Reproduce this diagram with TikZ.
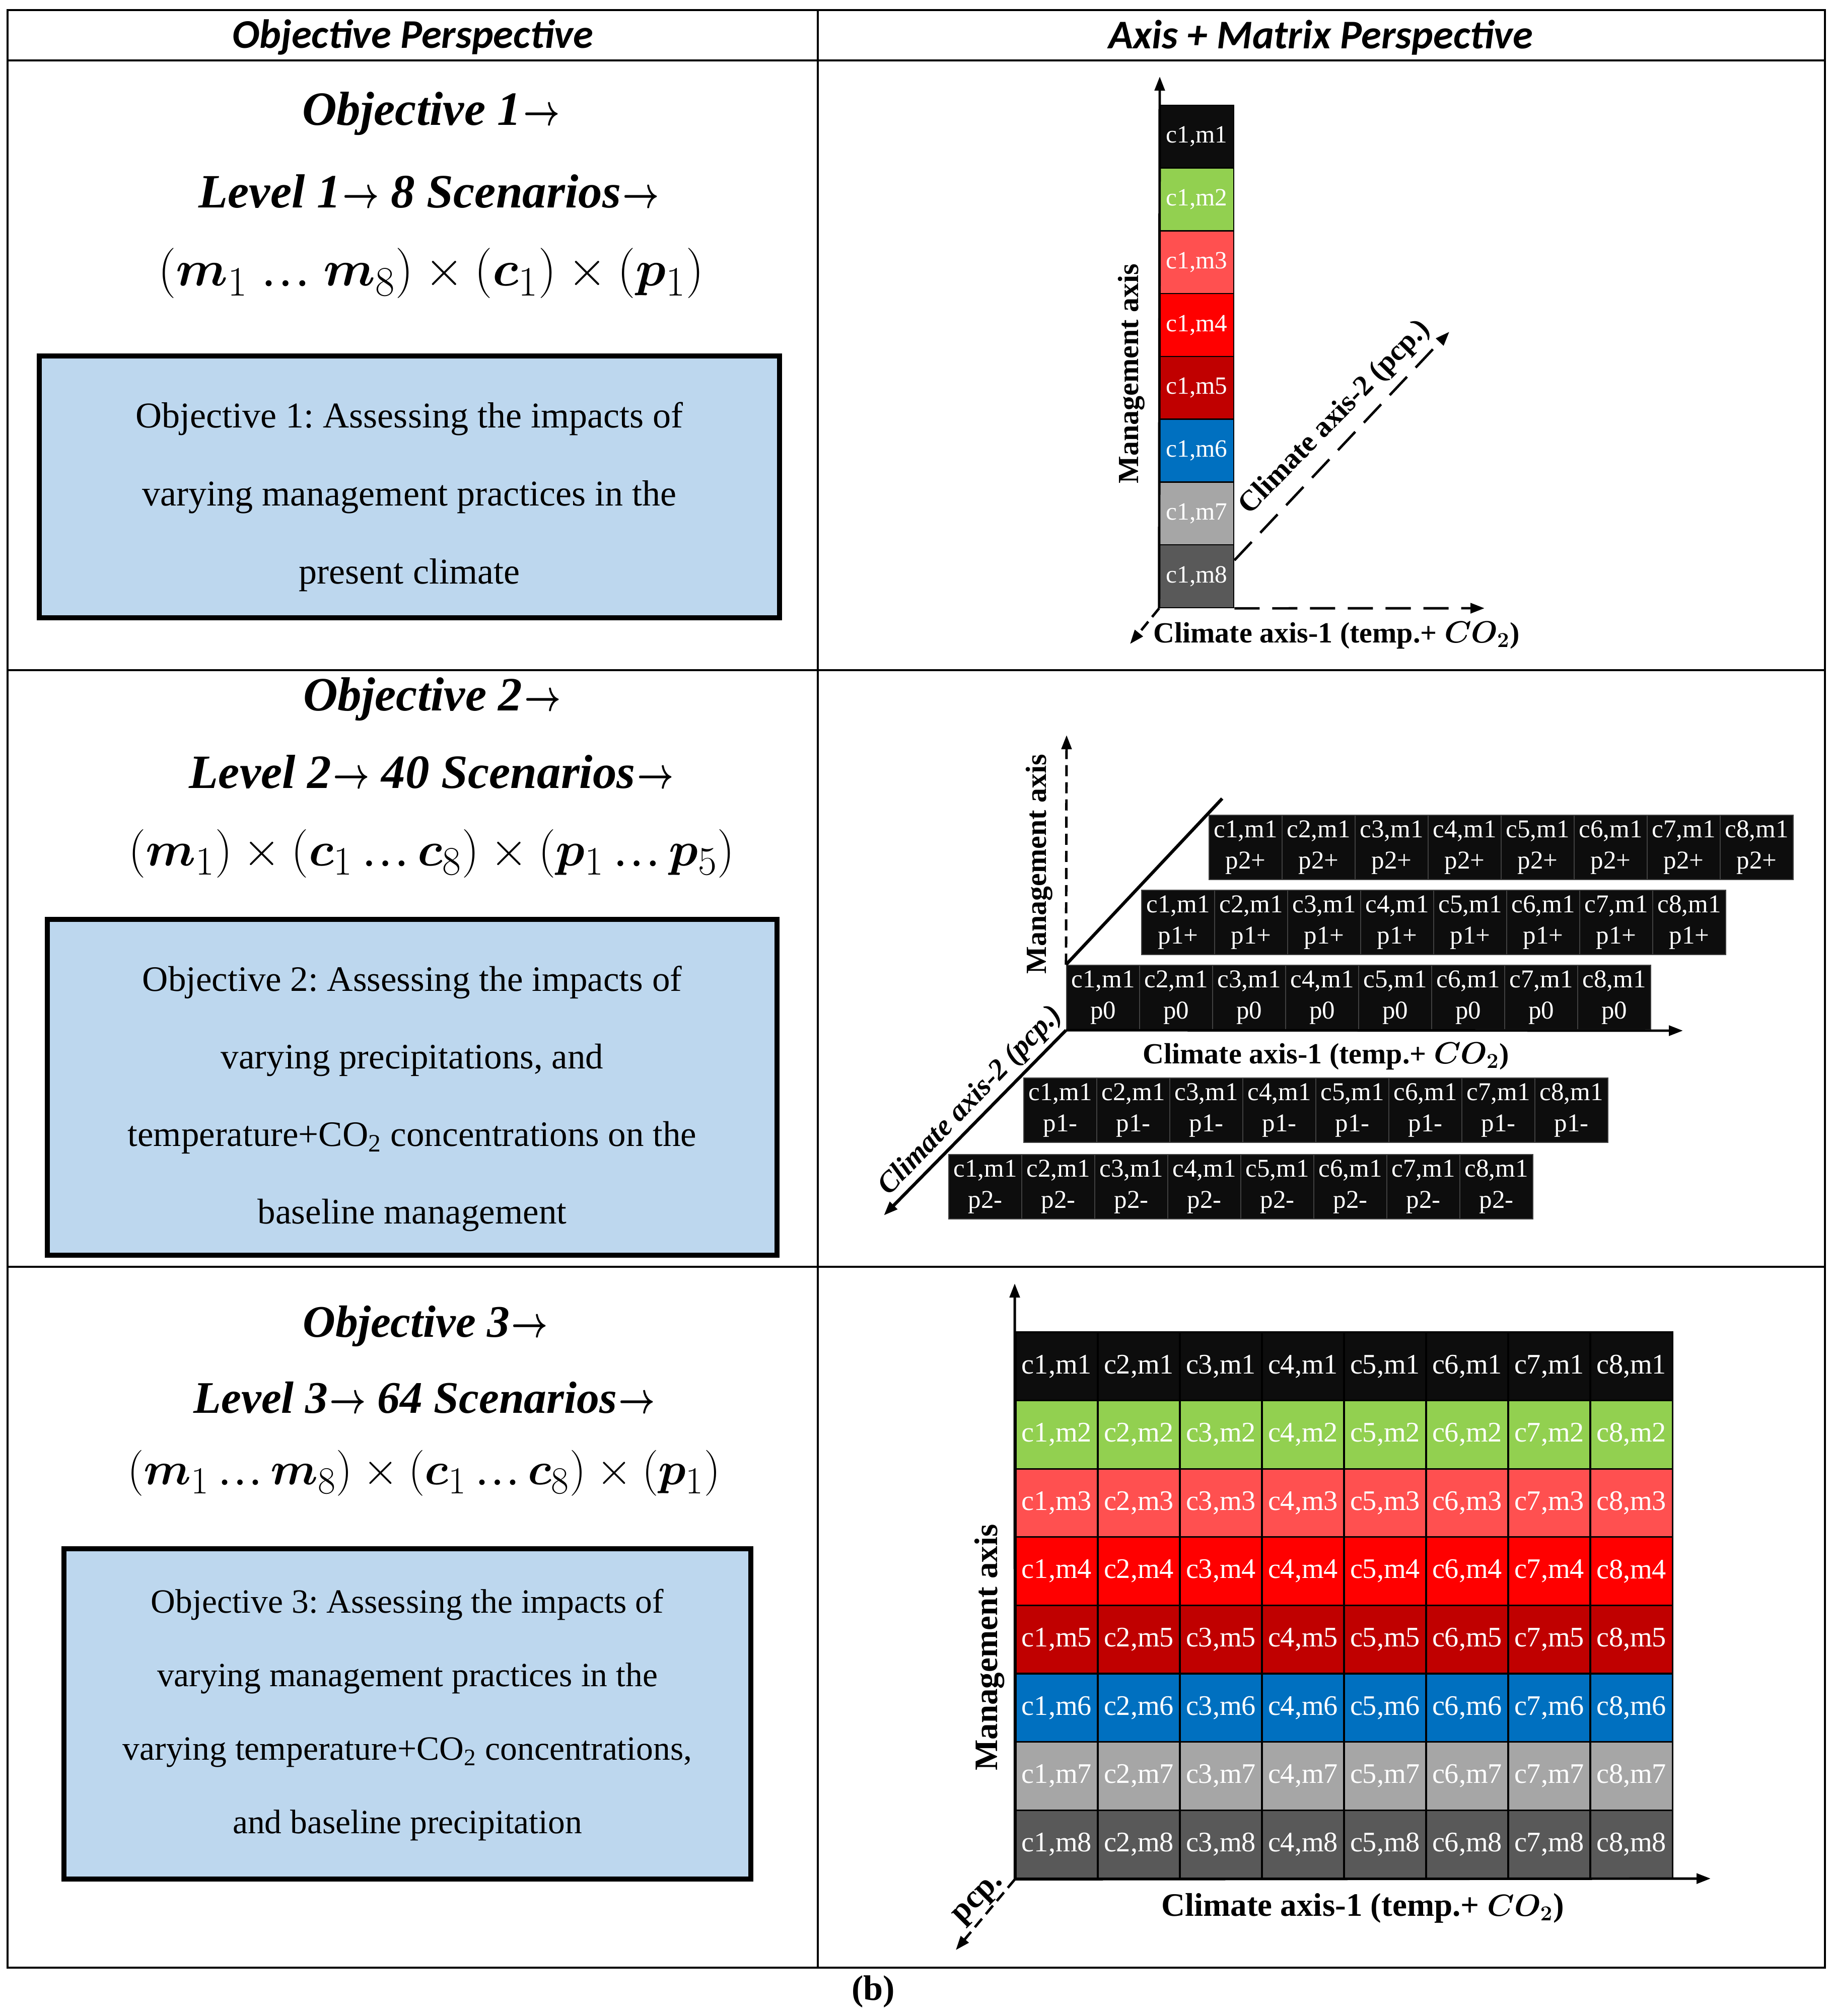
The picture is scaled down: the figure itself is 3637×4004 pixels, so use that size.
\documentclass[tikz,border=0pt]{standalone}
\usepackage{fontspec}
\usepackage{bm}
\setmainfont{Liberation Serif}
\newfontfamily\hdrfont{Carlito}
\usetikzlibrary{arrows.meta,calc}
\definecolor{cM1}{HTML}{0D0D0D}
\definecolor{cM2}{HTML}{92D050}
\definecolor{cM3}{HTML}{FF5050}
\definecolor{cM4}{HTML}{FF0000}
\definecolor{cM5}{HTML}{C00000}
\definecolor{cM6}{HTML}{0070C0}
\definecolor{cM7}{HTML}{A6A6A6}
\definecolor{cM8}{HTML}{595959}
\definecolor{boxblue}{HTML}{BDD7EE}
\newcommand\bv[2]{\bm{#1}_{#2}}
\newcommand\rar{\kern0.04em\scalebox{0.72}[1]{\boldmath$\rightarrow$}}
\newcommand\dts{\mbox{…}}
\frenchspacing
\begin{document}
\begin{tikzpicture}[x=0.01cm,y=-0.01cm,
  tbl/.style={line width=1.3pt},
  obox/.style={draw=black,line width=2.85pt,fill=boxblue,inner sep=0pt},
  otext/.style={align=center,inner sep=0pt},
  hdr/.style={font=\hdrfont\bfseries\itshape\fontsize{23}{27}\selectfont},
  ttl/.style={font=\bfseries\itshape\fontsize{27}{32}\selectfont},
  mth/.style={font=\fontsize{24.88}{30}\selectfont},
  axlab/.style={font=\bfseries\fontsize{16.5}{20}\selectfont},
  axlabC/.style={font=\bfseries\fontsize{18.5}{22}\selectfont},
  ax/.style={line width=1.4pt,-{Triangle[length=0.28cm,width=0.2cm]}},
  dax/.style={ax,dash pattern=on 0.5cm off 0.25cm},
  daxs/.style={ax,dash pattern=on 0.22cm off 0.12cm},
  cellA/.style={draw=black,line width=0.7pt,text=white,minimum width=1.47cm,minimum height=1.2475cm,inner sep=0pt,font=\fontsize{14}{17}\selectfont},
  cellB/.style={draw=black!75,line width=0.6pt,fill=cM1,text=white,minimum width=1.45cm,minimum height=1.28cm,inner sep=0pt,align=center,font=\fontsize{14.5}{17.6}\selectfont},
  cellC/.style={draw=black,line width=0.9pt,text=white,minimum width=1.63cm,minimum height=1.356cm,inner sep=0pt,font=\fontsize{16}{19}\selectfont}
]
\useasboundingbox (0,0) rectangle (3637,4004);
\fill[white] (0,0) rectangle (3637,4004);

% table frame
\draw[tbl] (15,20) rectangle (3624,3908);
\draw[tbl] (1624,20) -- (1624,3908);
\draw[tbl] (15,120) -- (3624,120);
\draw[tbl] (15,1331) -- (3624,1331);
\draw[tbl] (15,2516) -- (3624,2516);

\node[hdr] (h1) at (820,74) {Objective Perspective};
\node[hdr] (h2) at (2623,74) {Axis + Matrix Perspective};

% ---------- row 1 left
\node[ttl] (o1t) at (856,226) {Objective 1\rar};
\node[ttl] (o1l) at (852,380) {Level 1\rar{} 8 Scenarios\rar};
\node[mth] (o1m) at (856,543) {\scalebox{1.14}{$(\bv{m}{1}\ \dts\ \bv{m}{8})\times(\bv{c}{1})\times(\bv{p}{1})$}};
\node[obox,minimum width=14.7cm,minimum height=5.19cm] (b1) at (813,967) {};
\node[otext,font=\fontsize{20.5}{44}\selectfont] (t1) at (813,987)
  {Objective 1: Assessing the impacts of\\varying management practices in the\\present climate};

% ---------- row 1 right
\foreach \i/\c in {1/cM1,2/cM2,3/cM3,4/cM4,5/cM5,6/cM6,7/cM7,8/cM8}
  \node[cellA,fill=\c] (a\i) at (2376.5,{209+124.75*(\i-0.5)}) {c1,m\i};
\coordinate (m1tip) at (2303,152);
\coordinate (x1tip) at (2948,1208);
\coordinate (d1tip) at (2878,659);
\coordinate (z1tip) at (2244,1279);
\draw[ax] (a8.south west) -- (m1tip);
\draw[dax] (a8.south east) -- (x1tip);
\draw[dax] ($(a8.north east)!0.25!(a8.south east)$) -- (d1tip);
\draw[daxs] (a8.south west) -- (z1tip);
\node[axlab,rotate=90] (ml1) at (2247,742) {Management axis};
\node[axlab] (cl1) at (2654,1262) {Climate axis-1 (temp.+ {\boldmath$CO_2$})};
\node[axlab,rotate=45.6] (pa1) at (2651,830) {Climate axis-2 (pcp.)};

% ---------- row 2 left
\node[ttl] (o2t) at (858,1389) {Objective 2\rar};
\node[ttl] (o2l) at (857,1533) {Level 2\rar{} 40 Scenarios\rar};
\node[mth] (o2m) at (857,1695) {\scalebox{1.1}{$(\bv{m}{1})\times(\bv{c}{1}\,\dts\,\bv{c}{8})\times(\bv{p}{1}\,\dts\,\bv{p}{5})$}};
\node[obox,minimum width=14.49cm,minimum height=6.67cm] (b2) at (818.5,2159.5) {};
\node[otext,font=\fontsize{20.2}{43.8}\selectfont] (t2) at (818.5,2182)
  {Objective 2: Assessing the impacts of\\varying precipitations, and\\temperature+CO\textsubscript{2} concentrations on the\\baseline management};

% ---------- row 2 right
\foreach \n/\x/\y/\l in {q2/2401/1683/p2+,q1/2267/1832/p1+,q0/2118/1981/p0,r1/2033/2205/p1-,r2/1884/2357/p2-}
  \foreach \k in {1,...,8}
    \node[cellB] (\n\k) at ({\x+145*(\k-0.5)},\y) {c\k,m1\\\l};
\coordinate (m2tip) at (2118,1460);
\coordinate (x2tip) at (3342,2047);
\coordinate (u2end) at (2427,1586);
\coordinate (l2tip) at (1755,2414);
\draw[daxs] (q01.north west) -- (m2tip);
\draw[ax] (q01.south west) -- (x2tip);
\draw[line width=1.8pt] (q01.north west) -- (u2end);
\draw[ax,line width=1.8pt] (q01.south west) -- (l2tip);
\node[axlab,rotate=90] (ml2) at (2064,1716) {Management axis};
\node[axlab] (cl2) at (2633,2098) {Climate axis-1 (temp.+ {\boldmath$CO_2$})};
\node[axlab,font=\bfseries\itshape\fontsize{16.5}{20}\selectfont,rotate=46] (pa2) at (1928,2187) {Climate axis-2 (pcp.)};

% ---------- row 3 left
\node[ttl,font=\bfseries\itshape\fontsize{25.5}{30}\selectfont] (o3t) at (845,2634) {Objective 3\rar};
\node[ttl,font=\bfseries\itshape\fontsize{25.5}{30}\selectfont] (o3l) at (843,2776) {Level 3\rar{} 64 Scenarios\rar};
\node[mth] (o3m) at (842,2926) {\scalebox{1.04}{$(\bv{m}{1}\,\dts\,\bv{m}{8})\times(\bv{c}{1}\,\dts\,\bv{c}{8})\times(\bv{p}{1})$}};
\node[obox,minimum width=13.64cm,minimum height=6.56cm] (b3) at (809,3404) {};
\node[otext,font=\fontsize{19.2}{41.5}\selectfont] (t3) at (809,3406)
  {Objective 3: Assessing the impacts of\\varying management practices in the\\varying temperature+CO\textsubscript{2} concentrations,\\and baseline precipitation};

% ---------- row 3 right
\foreach \r/\c in {1/cM1,2/cM2,3/cM3,4/cM4,5/cM5,6/cM6,7/cM7,8/cM8}
  \foreach \k in {1,...,8}
    \node[cellC,fill=\c] (g\k\r) at ({2017+163*(\k-0.5)},{2646+135.6*(\r-0.5)}) {c\k,m\r};
\coordinate (m3tip) at (2015,2549);
\coordinate (x3tip) at (3397,3731);
\coordinate (z3tip) at (1898,3873);
\draw[ax] (g18.south west) -- (m3tip);
\draw[ax] (g18.south west) -- (x3tip);
\draw[daxs] (g18.south west) -- (z3tip);
\node[axlabC,rotate=45] (pc3) at (1945,3774) {pcp.};
\node[axlabC,rotate=90] (ml3) at (1965,3272) {Management axis};
\node[axlabC] (cl3) at (2706,3790) {Climate axis-1 (temp.+ {\boldmath$CO_2$})};

\node[font=\bfseries\fontsize{20}{24}\selectfont] (cap) at (1734,3956) {(b)};
\end{tikzpicture}
\end{document}
